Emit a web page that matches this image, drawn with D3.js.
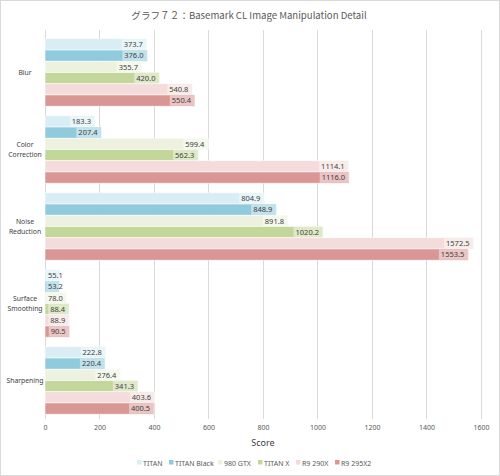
<!DOCTYPE html>
<html><head><meta charset="utf-8">
<script src="https://cdn.jsdelivr.net/npm/d3@7"></script>
<style>body{margin:0;background:#fff}svg{display:block}</style>
</head><body><div id="chart"></div>
<script>
const categories = ["Blur", "Color Correction", "Noise Reduction", "Surface Smoothing", "Sharpening"];
const seriesNames = ["TITAN", "TITAN Black", "980 GTX", "TITAN X", "R9 290X", "R9 295X2"];
const seriesColors = ["#d8edf4", "#8fcbdc", "#ecf2df", "#c3d79b", "#f3dcdb", "#d99694"];
const TITAN = [373.7, 183.3, 804.9, 55.1, 222.8];
const TITAN_Black = [376.0, 207.4, 848.9, 53.2, 220.4];
const GTX980 = [355.7, 599.4, 891.8, 78.0, 276.4];
const TITAN_X = [420.0, 562.3, 1020.2, 88.4, 341.3];
const R9_290X = [540.8, 1114.1, 1572.5, 88.9, 403.6];
const R9_295X2 = [550.4, 1116.0, 1553.5, 90.5, 400.5];
const xTicks = [0, 200, 400, 600, 800, 1000, 1200, 1400, 1600];
const title = "グラフ７２：Basemark CL Image Manipulation Detail";
const xTitle = "Score";

const values = [TITAN, TITAN_Black, GTX980, TITAN_X, R9_290X, R9_295X2];
const W = 500, H = 476;
const svg = d3.select("#chart").append("svg").attr("width", W).attr("height", H);
const font = "'Noto Sans', 'Noto Sans CJK JP', sans-serif";

svg.append("rect").attr("x", 0.5).attr("y", 0.5).attr("width", W - 1).attr("height", H - 1)
  .attr("fill", "#fff").attr("stroke", "#d9d9d9");

svg.append("text").attr("x", 249).attr("y", 19).attr("text-anchor", "middle")
  .attr("font-family", "'Noto Sans CJK JP', sans-serif").attr("font-size", 9.6).attr("fill", "#595959").text(title);

const x = d3.scaleLinear().domain([0, 1600]).range([45, 481]);
const yCat = d3.scaleBand().domain(categories).range([34, 419]);
const ySer = d3.scaleBand().domain(seriesNames).range([4.8, yCat.bandwidth() - 4.8]);

// grid
svg.append("g").selectAll("line").data(xTicks).join("line")
  .attr("x1", d => x(d)).attr("x2", d => x(d)).attr("y1", 30).attr("y2", 419)
  .attr("stroke", "#d9d9d9").attr("stroke-width", 1).attr("shape-rendering", "crispEdges");

// x axis labels
const xAxis = d3.axisBottom(x).tickValues(xTicks).tickSize(0).tickPadding(6).tickFormat(d3.format("d"));
const gx = svg.append("g").attr("transform", "translate(0,419)").call(xAxis);
gx.select(".domain").remove();
gx.selectAll("text").attr("font-family", font).attr("font-size", 7).attr("fill", "#595959");

svg.append("text").attr("x", x(800)).attr("y", 446).attr("text-anchor", "middle")
  .attr("font-family", font).attr("font-size", 9).attr("fill", "#404040").text(xTitle);

// category labels
categories.forEach(c => {
  const words = c.split(" ");
  const cy = yCat(c) + yCat.bandwidth() / 2;
  const t = svg.append("text").attr("x", 25).attr("text-anchor", "middle")
    .attr("font-family", font).attr("font-size", 6.8).attr("fill", "#404040");
  words.forEach((w, i) => {
    t.append("tspan").attr("x", 25).attr("y", cy + 2.5 + (i - (words.length - 1) / 2) * 10.5).text(w);
  });
});

// bars
const g = svg.append("g");
categories.forEach((c, ci) => {
  seriesNames.forEach((s, si) => {
    const v = values[si][ci];
    const y0 = yCat(c) + ySer(s);
    const h = ySer.bandwidth();
    g.append("rect").attr("x", x(0)).attr("y", y0).attr("width", x(v) - x(0)).attr("height", h)
      .attr("fill", seriesColors[si]).attr("stroke", "#fff").attr("stroke-opacity", 0.7).attr("stroke-width", 0.8);
    const label = v.toFixed(1);
    const txt = g.append("text").attr("font-family", font).attr("font-size", 7.5).attr("fill", "#404040")
      .attr("text-anchor", "end").attr("y", y0 + h / 2 + 2.7).text(label);
    const tw = txt.node().getComputedTextLength();
    const boxW = tw + 6;
    const boxR = Math.max(x(v), x(0) + boxW + 1);
    g.insert("rect", () => txt.node()).attr("x", boxR - boxW).attr("y", y0 + 0.5).attr("width", boxW).attr("height", h - 1)
      .attr("fill", "#fff").attr("fill-opacity", 0.45);
    txt.attr("x", boxR - 4);
  });
});

// legend
const legendX = [137, 169, 218, 258, 296, 335];
seriesNames.forEach((s, i) => {
  svg.append("rect").attr("x", legendX[i]).attr("y", 460).attr("width", 4.5).attr("height", 4.5).attr("fill", seriesColors[i]);
  svg.append("text").attr("x", legendX[i] + 6).attr("y", 465.5).attr("font-family", font).attr("font-size", 7)
    .attr("fill", "#595959").text(s);
});
</script></body></html>
